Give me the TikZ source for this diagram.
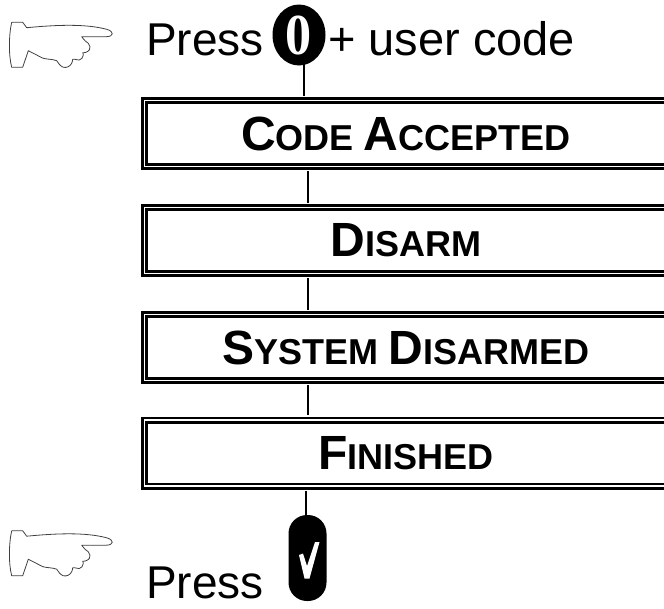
\documentclass[tikz,border=0pt]{standalone}
\usepackage{fontspec}
\setmainfont{Liberation Sans}
\newfontfamily\numserif{Liberation Serif}
\usetikzlibrary{shapes.geometric}
\newcommand{\BigCap}[1]{{\fontsize{48}{48}\selectfont #1}}
\newcommand{\SmCap}[1]{{\fontsize{36}{36}\selectfont #1}}
\tikzset{
  stagebox/.style={rectangle, draw=black, line width=2.6pt, double=white, double distance=1.8pt,
    minimum width=523pt, minimum height=66pt, inner sep=0pt, font=\bfseries\fontsize{36}{36}\selectfont},
  plaintext/.style={inner sep=0pt, font=\fontsize{46}{46}\selectfont},
  conn/.style={draw=black, line width=2pt},
  handline/.style={draw=black!75, line width=0.8pt, line join=round},
  hand/.pic={
    \draw[handline] (11.7,22.3) -- (22.7,22.3) -- (26.7,27.7)
      .. controls (55,25) and (85,23.5) .. (106.7,29.3)
      .. controls (114.5,31.5) and (114,36.7) .. (106,36.7)
      -- (81.7,36.7)
      -- plot[smooth, tension=0.6] coordinates {(81.7,36.7) (85,40.7) (88.3,43.3) (90,46.7) (89.3,50) (86,52.3) (82.7,52.7)}
      -- plot[smooth, tension=0.6] coordinates {(82.7,52.7) (83.3,55) (82,58.3) (79.3,60) (75,59.3) (72.7,59.3)}
      -- plot[smooth, tension=0.6] coordinates {(72.7,59.3) (71.7,63.3) (68.3,66.7) (63.3,67.3) (59.3,64.3) (56.7,60.7) (50,59.3) (43.3,58.3) (36.7,55) (28.3,50.7)}
      -- (22.7,67.3) -- (11.7,67.3)
      .. controls (8.5,55) and (8.8,35) .. (11.7,22.3) -- cycle;
  }
}
\begin{document}
\begin{tikzpicture}[x=1pt, y=-1pt]
\useasboundingbox (0,0) rectangle (664,608);
\clip (0,0) rectangle (664,608);

% hands
\pic at (0,0) {hand};
\pic at (0,508.5) {hand};

% top line
\node[plaintext, anchor=base west] (press1) at (146,55) {Press};
\node[ellipse, fill=black, minimum width=53pt, minimum height=61pt, inner sep=0pt] (zero) at (299,35)
  {\scalebox{0.9}[1]{\color{white}\numserif\bfseries\fontsize{58}{58}\selectfont 0}};
\node[plaintext, anchor=base west, font=\fontsize{47}{47}\selectfont] (plus) at (328,55) {+ user code};

% boxes
\node[stagebox] (b1) at (406,133.5) {\BigCap{C}\SmCap{ODE }\BigCap{A}\SmCap{CCEPTED}};
\node[stagebox] (b2) at (406,240.5) {\BigCap{D}\SmCap{ISARM}};
\node[stagebox] (b3) at (406,347.5) {\BigCap{S}\SmCap{YSTEM }\BigCap{D}\SmCap{ISARMED}};
\node[stagebox] (b4) at (406,453) {\BigCap{F}\SmCap{INISHED}};

% bottom line
\node[rectangle, rounded corners=18.5pt, fill=black, minimum width=38pt, minimum height=86pt, inner sep=0pt] (ok) at (307.5,558) {};
\node[plaintext, anchor=base west] (press2) at (146,598) {Press};
\fill[white] ([shift={(-8.5,-3)}]ok.center) -- ([shift={(-4.5,-4.5)}]ok.center) -- ([shift={(-0.5,8)}]ok.center)
  -- ([shift={(7.5,-16)}]ok.center) -- ([shift={(12,-16)}]ok.center) -- ([shift={(2,20.5)}]ok.center)
  -- ([shift={(-3,20.5)}]ok.center) -- cycle;

% connectors
\coordinate (c0) at (304,64);
\draw[conn, line width=1.5pt, shorten >=3.5pt] (c0) -- (c0 |- b1.north);
\coordinate (c1) at (307.5,0);
\draw[conn, shorten <=3.5pt, shorten >=3.5pt] (c1 |- b1.south) -- (c1 |- b2.north);
\draw[conn, shorten <=3.5pt, shorten >=3.5pt] (c1 |- b2.south) -- (c1 |- b3.north);
\draw[conn, shorten <=3.5pt, shorten >=3.5pt] (c1 |- b3.south) -- (c1 |- b4.north);
\coordinate (c4) at (306,0);
\draw[conn, shorten <=3.5pt] (c4 |- b4.south) -- (c4 |- ok.north);
\end{tikzpicture}
\end{document}
